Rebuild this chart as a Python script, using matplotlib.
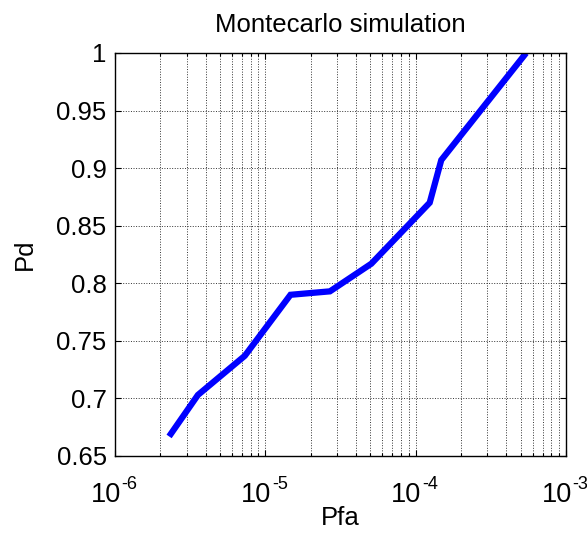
import matplotlib
matplotlib.use("Agg")
import matplotlib.pyplot as plt
import matplotlib.transforms as mtransforms
from matplotlib.ticker import LogLocator

plt.rcParams['font.family'] = ['Liberation Sans', 'DejaVu Sans']

# Data
pfa = [2.29e-6, 3.56e-6, 7.3e-6, 1.47e-5, 2.69e-5, 5.07e-5, 1.24e-4, 1.48e-4, 5.43e-4]
pd = [0.667, 0.703, 0.737, 0.790, 0.793, 0.817, 0.870, 0.907, 1.0]
yticks = [0.65, 0.7, 0.75, 0.8, 0.85, 0.9, 0.95, 1]
ytick_labels = ['0.65', '0.7', '0.75', '0.8', '0.85', '0.9', '0.95', '1']
xticks = [1e-6, 1e-5, 1e-4, 1e-3]
xtick_base = ['10', '10', '10', '10']
xtick_exps = ['-6', '-5', '-4', '-3']

fig = plt.figure(figsize=(5.87, 5.36), dpi=100)
ax = fig.add_axes([115/587, 1-456/536, (566-115)/587, (456-53)/536])

ax.plot(pfa, pd, color=(0, 0, 1), lw=4.5, solid_capstyle='butt', solid_joinstyle='miter')
ax.set_xscale('log')
ax.set_xlim(1e-6, 1e-3)
ax.set_ylim(0.65, 1.0)

ax.set_xticks(xticks)
ax.set_xticklabels(xtick_base)
ax.xaxis.set_minor_locator(LogLocator(base=10, subs=range(2, 10), numticks=20))
ax.xaxis.set_minor_formatter(plt.NullFormatter())
ax.set_yticks(yticks)
ax.set_yticklabels(ytick_labels)

ax.grid(True, which='major', axis='both', linestyle=':', color='0.2', lw=0.7)
ax.grid(True, which='minor', axis='x', linestyle=':', color='0.2', lw=0.7)

ax.tick_params(which='both', direction='in', top=True, right=True, width=0.8)
ax.tick_params(which='major', length=4)
ax.tick_params(which='minor', length=2.5)
ax.tick_params(axis='y', labelsize=18.5, pad=6)
ax.tick_params(axis='x', labelsize=19.5, pad=18.5)
for s in ax.spines.values():
    s.set_linewidth(1.0)
    s.set_color('k')

# shift the "10" bases left so the exponent sits to the right
shift = mtransforms.ScaledTranslation(-9.5/100, 0, fig.dpi_scale_trans)
for lab in ax.get_xticklabels():
    lab.set_transform(lab.get_transform() + shift)

for xt, ex in zip(xticks, xtick_exps):
    ax.annotate(ex, xy=(xt, 0), xycoords=('data', 'axes fraction'),
                xytext=(10.5, -14.5), textcoords='offset points',
                ha='center', va='top', fontsize=13, annotation_clip=False)

ax.set_title('Montecarlo simulation', fontsize=18.5, pad=15)
ax.set_xlabel('Pfa', fontsize=18.5, labelpad=-1)
ax.set_ylabel('Pd', fontsize=18.5, labelpad=14)

fig.savefig('out.png', dpi=100, facecolor='white')
